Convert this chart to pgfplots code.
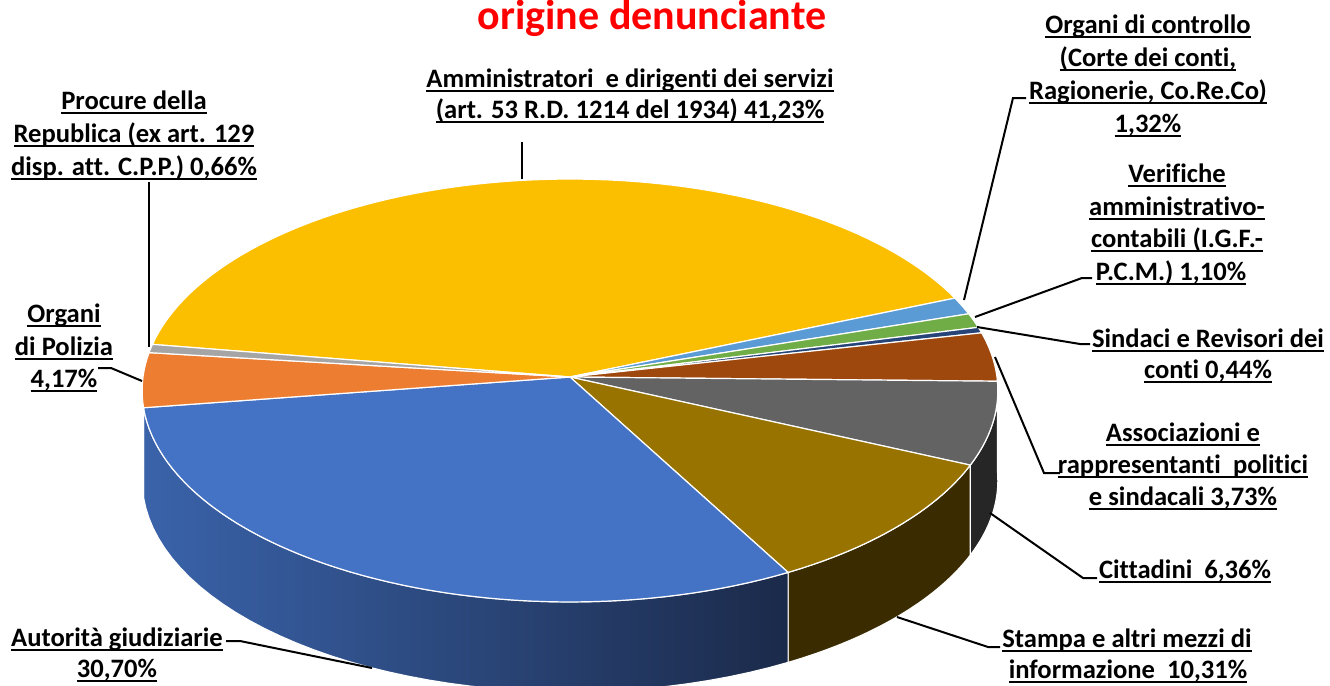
\documentclass[border=0pt]{standalone}
\usepackage{fontspec}
\setmainfont[Ligatures=NoCommon]{Carlito}
\usepackage{pgfplots}
\pgfplotsset{compat=1.18}
\tikzset{declare function={
  px(\t)=570+427*cos(\t)/(1+0.0638*sin(\t));
  py(\t)=377-210.6*sin(\t)/(1+0.0638*sin(\t));
  ang(\s,\a,\b)=(\s<50)*(\a+(\b-\a)*\s/40)+(\s>50)*(\b+(\a-\b)*(\s-100)/40);
},
lbl/.style={font=\fontsize{13.3}{16}\selectfont\bfseries, text=black, inner sep=0pt, anchor=base}}
\definecolor{cYel}{HTML}{FBBF00}
\definecolor{cLBlue}{HTML}{5B9BD5}
\definecolor{cGreen}{HTML}{70AD47}
\definecolor{cNavy}{HTML}{264478}
\definecolor{cBrown}{HTML}{9E480E}
\definecolor{cGray}{HTML}{636363}
\definecolor{cGold}{HTML}{997300}
\definecolor{cBlue}{HTML}{4472C4}
\definecolor{cOrange}{HTML}{ED7D31}
\definecolor{cLGray}{HTML}{A5A5A5}
\definecolor{sBrown}{HTML}{4F2407}
\definecolor{sGray}{HTML}{262626}
\definecolor{sGold}{HTML}{3A2C00}
\definecolor{sBlueL}{HTML}{3A63AA}
\definecolor{sBlueR}{HTML}{1B2A4A}
\definecolor{sOrange}{HTML}{9A4F1E}
% percentages (data)
\def\pAmm{41.23}\def\pCtrl{1.32}\def\pVer{1.10}\def\pSind{0.44}
\def\pAss{3.73}\def\pCitt{6.36}\def\pStam{10.31}\def\pAut{30.70}
\def\pPol{4.17}\def\pProc{0.66}
\pgfmathsetmacro\bO{171}
\pgfmathsetmacro\bA{\bO-3.6*\pAmm}
\pgfmathsetmacro\bB{\bA-3.6*\pCtrl}
\pgfmathsetmacro\bC{\bB-3.6*\pVer}
\pgfmathsetmacro\bD{\bC-3.6*\pSind}
\pgfmathsetmacro\bE{\bD-3.6*\pAss}
\pgfmathsetmacro\bF{\bE-3.6*\pCitt}
\pgfmathsetmacro\bG{\bF-3.6*\pStam}
\pgfmathsetmacro\bH{\bG-3.6*\pAut}
\pgfmathsetmacro\bI{\bH-3.6*\pPol}
\pgfmathsetmacro\bJ{\bO-360}
\newcommand\ul[1]{\setbox0\hbox{#1}\rlap{\rule[-2.5pt]{\wd0}{0.9pt}}\box0}
\newcommand\slice[4]{% color, from, to, samples
  \addplot[fill=#1, draw=white, line width=0.6pt, domain=#2:#3, samples=#4]
    ({px(x)},{py(x)}) -- (axis cs:570,377) -- cycle;}
\newcommand\side[3]{% options, a, b
  \addplot[#1, draw=white, line width=0.6pt, samples at={0,1,...,40,100,101,...,140}, variable=\s]
    ({px(ang(\s,#2,#3))},{py(ang(\s,#2,#3))+(\s>50)*90}) -- cycle;}
\begin{document}
\begin{tikzpicture}
\begin{axis}[hide axis, scale only axis, width=665pt, height=343pt,
  xmin=0, xmax=1330, ymin=0, ymax=686, y dir=reverse, clip=false]
% side faces
\side{fill=sBrown}{\bE}{0}
\side{fill=sGray}{\bF}{\bE}
\side{fill=sGold}{\bG}{\bF}
\side{left color=sBlueL, right color=sBlueR}{\bH}{\bG}
\side{fill=sOrange}{-180}{\bH}
% top faces
\slice{cYel}{\bA}{\bO}{80}
\slice{cLBlue}{\bB}{\bA}{6}
\slice{cGreen}{\bC}{\bB}{6}
\slice{cNavy}{\bD}{\bC}{4}
\slice{cBrown}{\bE}{\bD}{10}
\slice{cGray}{\bF}{\bE}{15}
\slice{cGold}{\bG}{\bF}{22}
\slice{cBlue}{\bH}{\bG}{60}
\slice{cOrange}{\bI}{\bH}{10}
\slice{cLGray}{\bJ}{\bI}{4}
% leader lines
\addplot[black, line width=1pt] coordinates {(522,142) (522,179)};
\addplot[black, line width=1pt] coordinates {(149,182) (149,347)};
\addplot[black, line width=1pt] coordinates {(98,368) (111,368) (142,381)};
\addplot[black, line width=1pt] coordinates {(226,641) (240,641) (372,668)};
\addplot[black, line width=1pt] coordinates {(1026,98) (1013,98) (964,300)};
\addplot[black, line width=1pt] coordinates {(1092,278) (1082,278) (975,317)};
\addplot[black, line width=1pt] coordinates {(1090,344) (1080,344) (977,327)};
\addplot[black, line width=1pt] coordinates {(1060,473) (1044,473) (995,357)};
\addplot[black, line width=1pt] coordinates {(1097,578) (1083,578) (990,513)};
\addplot[black, line width=1pt] coordinates {(1000,647) (988,647) (897,617)};
% title
\node[font=\fontsize{21}{25}\selectfont\bfseries, text=red, inner sep=0pt, anchor=base] at (axis cs:652,29) {origine denunciante};
% labels
\node[lbl] at (axis cs:630,87) {\ul{Amministratori~ e dirigenti dei servizi}};
\node[lbl] at (axis cs:630,118) {\ul{(art. 53 R.D. 1214 del 1934) 41,23\%}};
\node[lbl] at (axis cs:134,109) {\ul{Procure della}};
\node[lbl] at (axis cs:134,142) {\ul{Republica (ex art. 129}};
\node[lbl] at (axis cs:134,175) {\ul{disp. att. C.P.P.) 0,66\%}};
\node[lbl] at (axis cs:64,322) {\ul{Organi}};
\node[lbl] at (axis cs:64,355) {\ul{di Polizia}};
\node[lbl] at (axis cs:64,387) {\ul{4,17\%}};
\node[lbl] at (axis cs:117,646) {\ul{Autorità giudiziarie}};
\node[lbl] at (axis cs:117,677) {\ul{30,70\%}};
\node[lbl] at (axis cs:1148,33) {\ul{Organi di controllo}};
\node[lbl] at (axis cs:1148,66) {\ul{(Corte dei conti,}};
\node[lbl] at (axis cs:1148,99) {\ul{Ragionerie, Co.Re.Co)}};
\node[lbl] at (axis cs:1148,132) {\ul{1,32\%}};
\node[lbl] at (axis cs:1177,182) {\ul{Verifiche}};
\node[lbl] at (axis cs:1177,215) {\ul{amministrativo-}};
\node[lbl] at (axis cs:1177,247) {\ul{contabili (I.G.F.-}};
\node[lbl] at (axis cs:1171,280) {\ul{P.C.M.) 1,10\%}};
\node[lbl] at (axis cs:1208,347) {\ul{Sindaci e Revisori dei}};
\node[lbl] at (axis cs:1208,378) {\ul{conti 0,44\%}};
\node[lbl] at (axis cs:1183,441) {\ul{Associazioni e}};
\node[lbl] at (axis cs:1183,473) {\ul{rappresentanti~ politici}};
\node[lbl] at (axis cs:1183,505) {\ul{e sindacali 3,73\%}};
\node[lbl] at (axis cs:1185,578) {\ul{Cittadini~ 6,36\%}};
\node[lbl] at (axis cs:1127,647) {\ul{Stampa e altri mezzi di}};
\node[lbl] at (axis cs:1128,678) {\ul{informazione~ 10,31\%}};
\end{axis}
\pgfresetboundingbox
\path (current axis.south west) rectangle (current axis.north east);
\end{tikzpicture}
\end{document}
